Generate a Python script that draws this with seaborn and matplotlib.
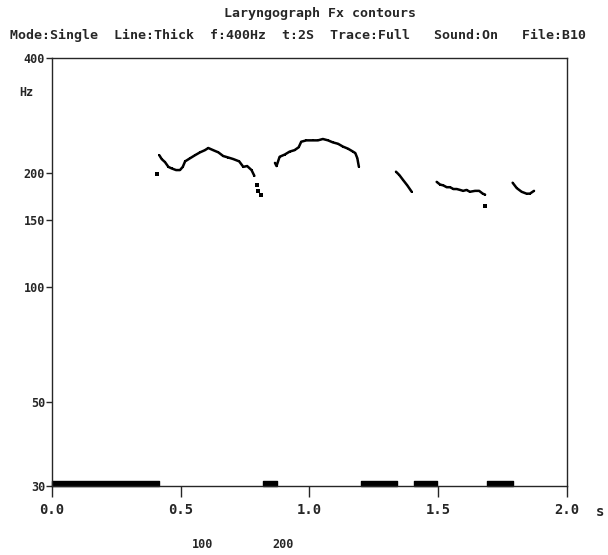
import numpy as np
import pandas as pd
import seaborn as sns
import matplotlib.pyplot as plt

sns.set_style("ticks")
plt.rcParams["font.family"] = ["DejaVu Sans Mono"]
plt.rcParams["font.weight"] = "bold"

# Fx contour segments (time in s, frequency in Hz)
seg1_t = [0.417, 0.426, 0.439, 0.452, 0.465, 0.482, 0.497, 0.508, 0.517, 0.536, 0.555, 0.575,
          0.594, 0.607, 0.626, 0.646, 0.665, 0.685, 0.704, 0.727, 0.743, 0.758, 0.775, 0.786]
seg1_f = [222, 217, 213, 207, 205, 203, 203, 207, 214, 218, 222, 226,
          229, 232, 229, 226, 221, 219, 217, 214, 207, 208, 203, 196]
seg2_t = [0.866, 0.872, 0.884, 0.904, 0.923, 0.942, 0.958, 0.968, 0.988, 1.014, 1.033, 1.052,
          1.072, 1.091, 1.111, 1.130, 1.150, 1.169, 1.178, 1.186, 1.188, 1.192]
seg2_f = [212, 208, 220, 223, 227, 229, 233, 241, 243, 243, 243, 245,
          243, 240, 238, 234, 231, 227, 225, 218, 214, 207]
seg3_t = [1.336, 1.349, 1.364, 1.380, 1.397]
seg3_f = [201, 197, 191, 185, 178]
seg4_t = [1.494, 1.507, 1.520, 1.533, 1.546, 1.559, 1.572, 1.585, 1.597, 1.610, 1.623, 1.643, 1.659, 1.673, 1.682]
seg4_f = [189, 186, 185, 183, 183, 181, 181, 180, 179, 180, 178, 179, 179, 176, 175]
seg5_t = [1.789, 1.805, 1.824, 1.843, 1.856, 1.872]
seg5_f = [188, 182, 178, 176, 176, 179]

# stray single points
dots_t = [0.409, 0.795, 0.801, 0.812, 1.682]
dots_f = [198, 185, 179, 175, 163]

# voiced regions at the bottom
voiced_start = [0.0, 0.82, 1.20, 1.405, 1.69]
voiced_end = [0.415, 0.875, 1.34, 1.495, 1.79]

yticks = [30, 50, 100, 150, 200, 400]
xticks = [0.0, 0.5, 1.0, 1.5, 2.0]

segs = [(seg1_t, seg1_f), (seg2_t, seg2_f), (seg3_t, seg3_f), (seg4_t, seg4_f), (seg5_t, seg5_f)]
df = pd.concat([pd.DataFrame({"t": t, "f": f, "seg": i}) for i, (t, f) in enumerate(segs)])
dots = pd.DataFrame({"t": dots_t, "f": dots_f})

fig = plt.figure(figsize=(6.08, 5.55), dpi=100)
ax = fig.add_axes([0.0855, 0.1243, 0.847, 0.7712])

sns.lineplot(data=df, x="t", y="f", units="seg", estimator=None, color="black",
             linewidth=1.8, marker="s", markersize=2, markeredgewidth=0, ax=ax)
sns.scatterplot(data=dots, x="t", y="f", color="black", marker="s", s=6, linewidth=0, ax=ax)

ax.broken_barh([(s, e - s) for s, e in zip(voiced_start, voiced_end)], (30, 1.0),
               color="black", clip_on=False)

ax.set_yscale("log")
ax.set_ylim(30, 400)
ax.set_xlim(0, 2.0)
ax.set_yticks(yticks)
ax.set_yticklabels([str(v) for v in yticks])
ax.yaxis.set_minor_locator(plt.NullLocator())
ax.set_xticks(xticks)
ax.set_xticklabels([f"{v:.1f}" for v in xticks], fontsize=10)
ax.tick_params(axis="y", length=4, width=1, labelsize=8.5, pad=1)
ax.tick_params(axis="x", length=8, width=1, pad=4)
ax.set_xlabel("")
ax.set_ylabel("")
for sp in ax.spines.values():
    sp.set_linewidth(1.0)
    sp.set_visible(True)

ax.text(-0.05, 0.92, "Hz", transform=ax.transAxes, ha="center", va="center", fontsize=8.5)
ax.text(1.064, -0.061, "s", transform=ax.transAxes, ha="center", va="center", fontsize=10)

fig.text(320 / 608, 1 - 14 / 555, "Laryngograph Fx contours", ha="center", va="center", fontsize=9.5)
fig.text(298 / 608, 1 - 35 / 555,
         "Mode:Single  Line:Thick  f:400Hz  t:2S  Trace:Full   Sound:On   File:B10",
         ha="center", va="center", fontsize=9.5)
fig.text(203 / 608, 1 - 545 / 555, "100", ha="center", va="center", fontsize=8.5)
fig.text(283 / 608, 1 - 545 / 555, "200", ha="center", va="center", fontsize=8.5)

fig.savefig("out.png", dpi=100)
